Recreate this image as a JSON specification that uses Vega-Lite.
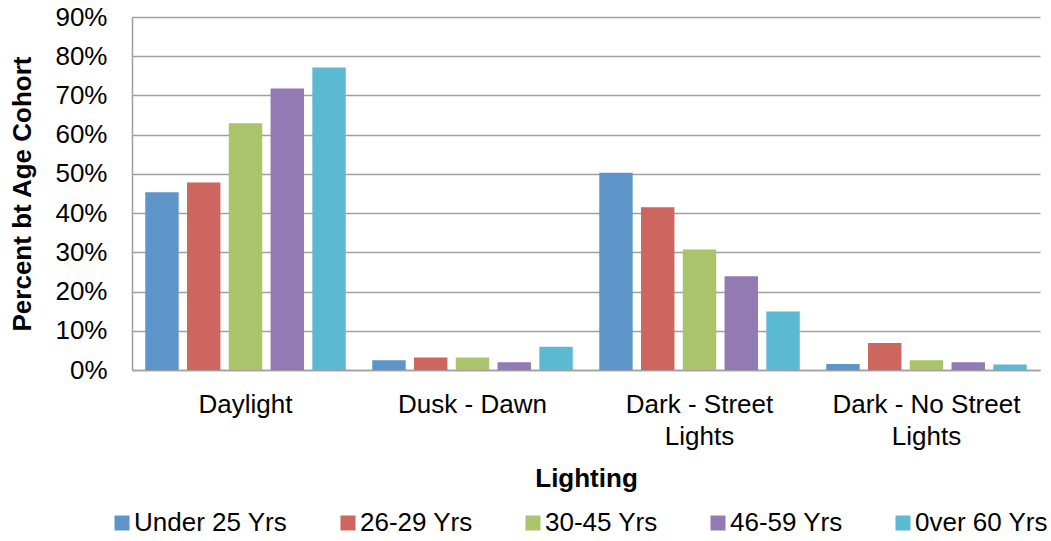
{
  "$schema": "https://vega.github.io/schema/vega-lite/v6.json",
  "width": 908,
  "height": 353,
  "autosize": {"type": "none"},
  "padding": {"left": 132, "top": 17, "right": 11, "bottom": 171},
  "background": "white",
  "config": {"view": {"stroke": null}, "font": "Liberation Sans"},
  "data": {
    "values": [
      {"lighting": "Daylight", "age": "Under 25 Yrs", "pct": 0.453},
      {"lighting": "Daylight", "age": "26-29 Yrs", "pct": 0.478},
      {"lighting": "Daylight", "age": "30-45 Yrs", "pct": 0.629},
      {"lighting": "Daylight", "age": "46-59 Yrs", "pct": 0.718},
      {"lighting": "Daylight", "age": "0ver 60 Yrs", "pct": 0.771},
      {"lighting": "Dusk - Dawn", "age": "Under 25 Yrs", "pct": 0.025},
      {"lighting": "Dusk - Dawn", "age": "26-29 Yrs", "pct": 0.032},
      {"lighting": "Dusk - Dawn", "age": "30-45 Yrs", "pct": 0.032},
      {"lighting": "Dusk - Dawn", "age": "46-59 Yrs", "pct": 0.020},
      {"lighting": "Dusk - Dawn", "age": "0ver 60 Yrs", "pct": 0.059},
      {"lighting": "Dark - Street Lights", "age": "Under 25 Yrs", "pct": 0.503},
      {"lighting": "Dark - Street Lights", "age": "26-29 Yrs", "pct": 0.415},
      {"lighting": "Dark - Street Lights", "age": "30-45 Yrs", "pct": 0.307},
      {"lighting": "Dark - Street Lights", "age": "46-59 Yrs", "pct": 0.239},
      {"lighting": "Dark - Street Lights", "age": "0ver 60 Yrs", "pct": 0.149},
      {"lighting": "Dark - No Street Lights", "age": "Under 25 Yrs", "pct": 0.015},
      {"lighting": "Dark - No Street Lights", "age": "26-29 Yrs", "pct": 0.069},
      {"lighting": "Dark - No Street Lights", "age": "30-45 Yrs", "pct": 0.025},
      {"lighting": "Dark - No Street Lights", "age": "46-59 Yrs", "pct": 0.020},
      {"lighting": "Dark - No Street Lights", "age": "0ver 60 Yrs", "pct": 0.014}
    ]
  },
  "mark": {"type": "bar"},
  "encoding": {
    "x": {
      "field": "lighting",
      "type": "nominal",
      "sort": ["Daylight", "Dusk - Dawn", "Dark - Street Lights", "Dark - No Street Lights"],
      "scale": {"paddingInner": 0.08, "paddingOuter": 0.04},
      "axis": {
        "title": "Lighting",
        "labelAngle": 0,
        "ticks": false,
        "labelExpr": "datum.value == 'Dark - Street Lights' ? ['Dark - Street', 'Lights'] : datum.value == 'Dark - No Street Lights' ? ['Dark - No Street', 'Lights'] : datum.value",
        "labelFontSize": 26,
        "labelColor": "#000000",
        "labelPadding": 21,
        "labelLineHeight": 32,
        "labelLimit": 0,
        "titleFontSize": 26,
        "titleFontWeight": "bold",
        "titleColor": "#000000",
        "titlePadding": 16,
        "domainColor": "#A0A0A0",
        "domainWidth": 1.5
      }
    },
    "xOffset": {
      "field": "age",
      "type": "nominal",
      "sort": ["Under 25 Yrs", "26-29 Yrs", "30-45 Yrs", "46-59 Yrs", "0ver 60 Yrs"],
      "scale": {"paddingInner": 0.2, "paddingOuter": 0.1}
    },
    "y": {
      "field": "pct",
      "type": "quantitative",
      "scale": {"domain": [0, 0.9], "nice": false},
      "axis": {
        "title": "Percent bt Age Cohort",
        "format": ".0%",
        "values": [0, 0.1, 0.2, 0.3, 0.4, 0.5, 0.6, 0.7, 0.8, 0.9],
        "grid": true,
        "gridColor": "#A0A0A0",
        "gridWidth": 1.5,
        "ticks": false,
        "labelFontSize": 26,
        "labelColor": "#000000",
        "labelPadding": 25,
        "titleFontSize": 26,
        "titleFontWeight": "bold",
        "titleColor": "#000000",
        "titlePadding": 19,
        "domainColor": "#A0A0A0",
        "domainWidth": 1.5
      }
    },
    "color": {
      "field": "age",
      "type": "nominal",
      "scale": {
        "domain": ["Under 25 Yrs", "26-29 Yrs", "30-45 Yrs", "46-59 Yrs", "0ver 60 Yrs"],
        "range": ["#5E95C9", "#CD665F", "#ABC36A", "#927AB3", "#5BB9D1"]
      },
      "legend": {
        "title": null,
        "orient": "none",
        "legendX": -23,
        "legendY": 493,
        "padding": 0,
        "direction": "horizontal",
        "columns": 5,
        "columnPadding": 47,
        "symbolType": "square",
        "symbolSize": 225,
        "symbolOpacity": 1,
        "symbolStrokeWidth": 0,
        "labelFontSize": 26,
        "labelColor": "#000000",
        "labelOffset": -1,
        "labelLimit": 0
      }
    }
  }
}
